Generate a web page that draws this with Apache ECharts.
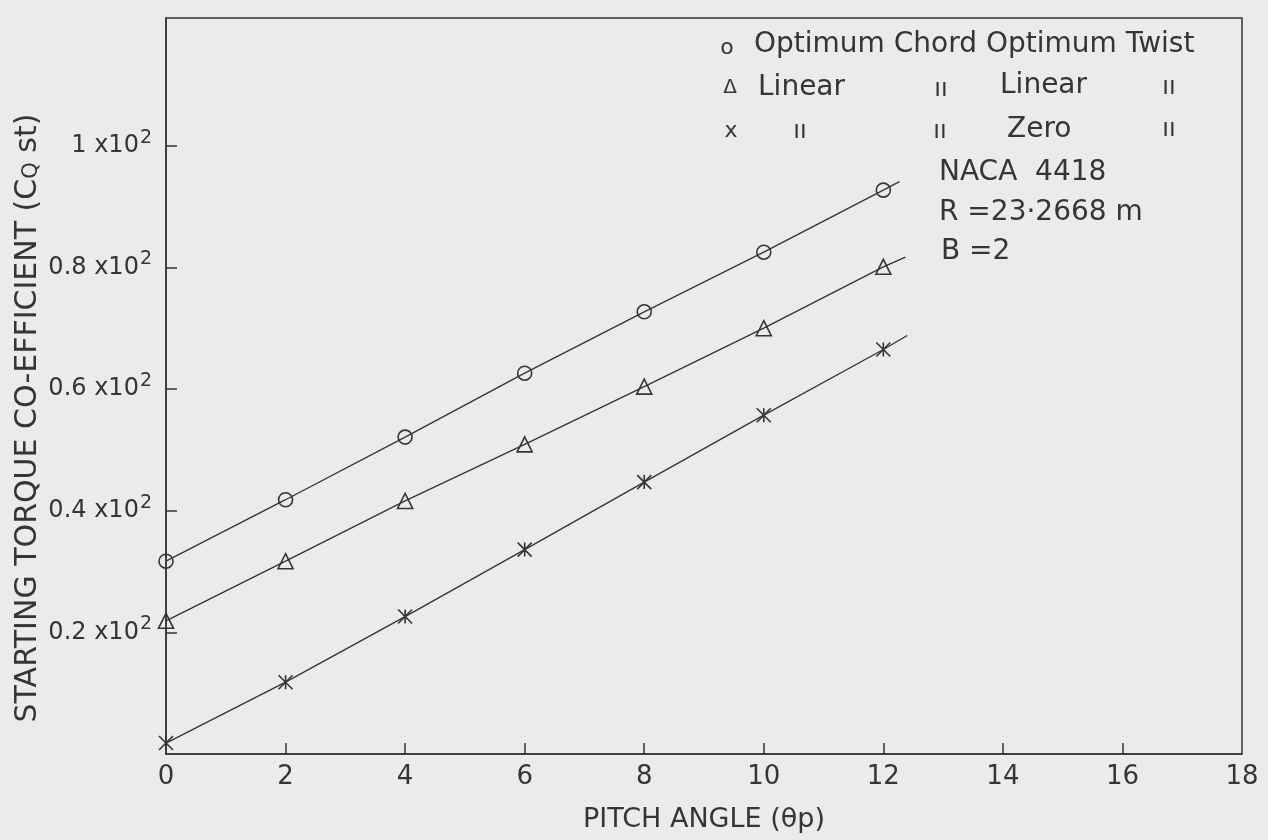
<!DOCTYPE html>
<html>
<head>
<meta charset="utf-8">
<script src="https://cdn.jsdelivr.net/npm/echarts@6/dist/echarts.min.js"></script>
<style>
html,body{margin:0;padding:0;background:#ebebea;}
#chart{width:1268px;height:840px;}
</style>
</head>
<body>
<div id="chart"></div>
<script>
// ---- data ----
var pitchAngles = [0, 2, 4, 6, 8, 10, 12];
var optChordOptTwist = [31.7, 41.8, 52.1, 62.6, 72.7, 82.5, 92.7];
var linearChordLinearTwist = [21.9, 31.7, 41.6, 50.9, 60.4, 70.0, 80.1];
var linearChordZeroTwist = [1.8, 11.8, 22.6, 33.6, 44.7, 55.7, 66.5];
// where each drawn line stops past the last marker
var lineEnds = {
  circle: [12.27, 94.1],
  triangle: [12.37, 81.7],
  cross: [12.4, 68.8]
};
var xTickLabels = ['0','2','4','6','8','10','12','14','16','18'];
var yTickValues = [20, 40, 60, 80, 100];
var yTickMantissa = ['0.2', '0.4', '0.6', '0.8', '1'];

var ink = '#353535';
var font = 'DejaVu Sans';

function buildSeries(vals, end) {
  var d = pitchAngles.map(function (x, i) { return [x, vals[i]]; });
  d.push({ value: end, symbol: 'none' });
  return d;
}

var crossPath = 'path://M0,0L10,10M10,0L0,10M5,0L5,10';

var chart = echarts.init(document.getElementById('chart'), null, { renderer: 'canvas' });

var option = {
  backgroundColor: '#ebebea',
  animation: false,
  grid: {
    left: 166, right: 26, top: 18, bottom: 86,
    show: true, borderColor: ink, borderWidth: 1.5, backgroundColor: 'transparent'
  },
  xAxis: {
    type: 'value', min: 0, max: 18, interval: 2,
    name: 'PITCH ANGLE (\u03B8p)', nameLocation: 'middle', nameGap: 52,
    nameTextStyle: { fontFamily: font, fontSize: 27, color: ink },
    axisLine: { show: true, lineStyle: { color: ink, width: 1.5 } },
    axisTick: { show: true, inside: true, length: 11, lineStyle: { color: ink, width: 1.5 },
      customValues: [2, 4, 6, 8, 10, 12, 14, 16] },
    axisLabel: { fontFamily: font, fontSize: 26, color: ink, margin: 10,
      formatter: function (v) { return xTickLabels[Math.round(v / 2)] || ''; } },
    splitLine: { show: false }
  },
  yAxis: {
    type: 'value', min: 0, max: 121, interval: 20,
    axisLine: { show: true, lineStyle: { color: ink, width: 1.5 } },
    axisTick: { show: true, inside: true, length: 11, lineStyle: { color: ink, width: 1.5 },
      customValues: yTickValues },
    axisLabel: {
      customValues: yTickValues,
      margin: 14,
      formatter: function (v) {
        var i = yTickValues.indexOf(Math.round(v));
        if (i < 0) return '';
        return '{n|' + yTickMantissa[i] + ' x10}{s|2}';
      },
      rich: {
        n: { fontFamily: font, fontSize: 24, color: ink },
        s: { fontFamily: font, fontSize: 19, color: ink, padding: [0, 0, 16, 1] }
      }
    },
    splitLine: { show: false }
  },
  graphic: [
    { type: 'text', x: 28, y: 418, rotation: Math.PI / 2,
      style: { text: '{a|STARTING TORQUE CO-EFFICIENT (C}{q|Q}{a| st)}', align: 'center', verticalAlign: 'middle',
        rich: {
          a: { fontFamily: font, fontSize: 30, fill: ink },
          q: { fontFamily: font, fontSize: 21, fill: ink, padding: [8, 0, 0, 0] }
        } } },
    // legend block
    { type: 'text', x: 727, y: 48, style: { text: 'o', fontFamily: font, fontSize: 22, fill: ink, align: 'center', verticalAlign: 'middle' } },
    { type: 'text', x: 754, y: 45, style: { text: 'Optimum Chord Optimum Twist', fontFamily: font, fontSize: 28, fill: ink, verticalAlign: 'middle' } },
    { type: 'text', x: 730, y: 88, style: { text: '\u0394', fontFamily: font, fontSize: 20, fill: ink, align: 'center', verticalAlign: 'middle' } },
    { type: 'text', x: 758, y: 88, style: { text: 'Linear', fontFamily: font, fontSize: 28, fill: ink, verticalAlign: 'middle' } },
    { type: 'text', x: 941, y: 90, style: { text: '\u0131\u0131', fontFamily: font, fontSize: 24, fill: ink, align: 'center', verticalAlign: 'middle' } },
    { type: 'text', x: 1000, y: 86, style: { text: 'Linear', fontFamily: font, fontSize: 28, fill: ink, verticalAlign: 'middle' } },
    { type: 'text', x: 1169, y: 88, style: { text: '\u0131\u0131', fontFamily: font, fontSize: 24, fill: ink, align: 'center', verticalAlign: 'middle' } },
    { type: 'text', x: 731, y: 131, style: { text: 'x', fontFamily: font, fontSize: 22, fill: ink, align: 'center', verticalAlign: 'middle' } },
    { type: 'text', x: 800, y: 132, style: { text: '\u0131\u0131', fontFamily: font, fontSize: 24, fill: ink, align: 'center', verticalAlign: 'middle' } },
    { type: 'text', x: 940, y: 132, style: { text: '\u0131\u0131', fontFamily: font, fontSize: 24, fill: ink, align: 'center', verticalAlign: 'middle' } },
    { type: 'text', x: 1007, y: 130, style: { text: 'Zero', fontFamily: font, fontSize: 28, fill: ink, verticalAlign: 'middle' } },
    { type: 'text', x: 1169, y: 130, style: { text: '\u0131\u0131', fontFamily: font, fontSize: 24, fill: ink, align: 'center', verticalAlign: 'middle' } },
    { type: 'text', x: 939, y: 173, style: { text: 'NACA  4418', fontFamily: font, fontSize: 28, fill: ink, verticalAlign: 'middle' } },
    { type: 'text', x: 939, y: 213, style: { text: 'R =23\u00B72668 m', fontFamily: font, fontSize: 28, fill: ink, verticalAlign: 'middle' } },
    { type: 'text', x: 941, y: 252, style: { text: 'B =2', fontFamily: font, fontSize: 28, fill: ink, verticalAlign: 'middle' } }
  ],
  series: [
    {
      name: 'Optimum Chord Optimum Twist', type: 'line',
      data: buildSeries(optChordOptTwist, lineEnds.circle),
      symbol: 'circle', symbolSize: 14, showAllSymbol: true,
      lineStyle: { color: ink, width: 1.4 },
      itemStyle: { color: 'transparent', borderColor: ink, borderWidth: 1.6 }
    },
    {
      name: 'Linear Chord Linear Twist', type: 'line',
      data: buildSeries(linearChordLinearTwist, lineEnds.triangle),
      symbol: 'triangle', symbolSize: 15, showAllSymbol: true,
      lineStyle: { color: ink, width: 1.4 },
      itemStyle: { color: 'transparent', borderColor: ink, borderWidth: 1.6 }
    },
    {
      name: 'Linear Chord Zero Twist', type: 'line',
      data: buildSeries(linearChordZeroTwist, lineEnds.cross),
      symbol: crossPath, symbolSize: 14, showAllSymbol: true,
      lineStyle: { color: ink, width: 1.4 },
      itemStyle: { color: 'transparent', borderColor: ink, borderWidth: 1.6 }
    }
  ]
};
chart.setOption(option);
</script>
</body>
</html>
